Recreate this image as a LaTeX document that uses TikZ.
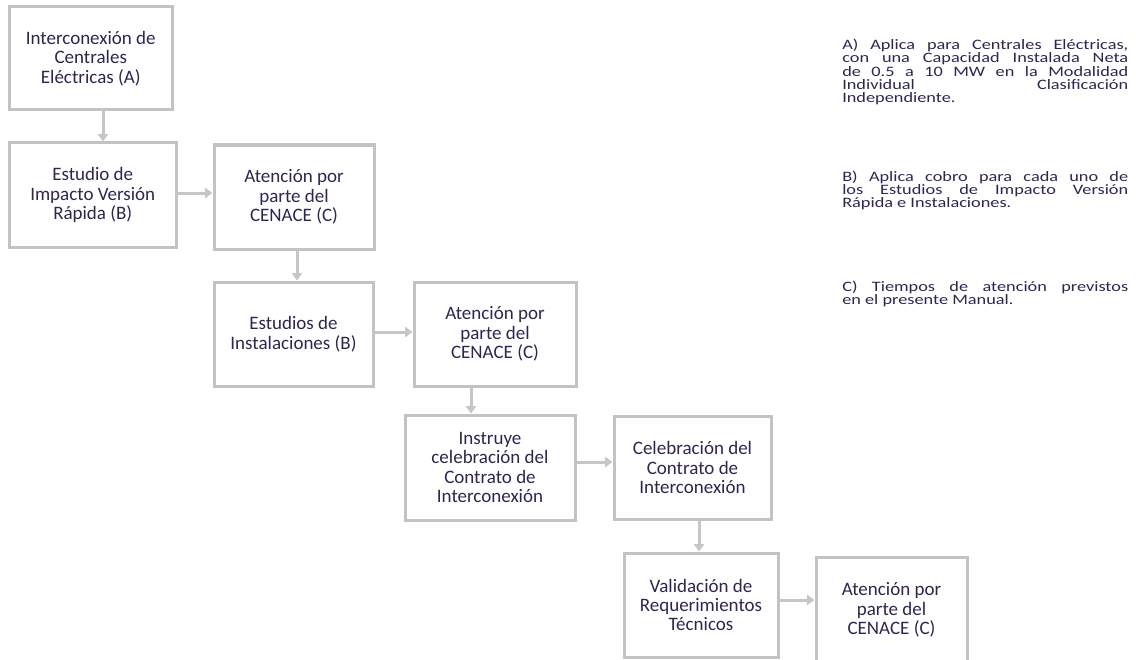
\documentclass[tikz,border=0pt]{standalone}
\usepackage{fontspec}
\usetikzlibrary{arrows.meta}
\newfontfamily\boxfont{Carlito}
\newfontfamily\notefont[FakeStretch=1.27]{Carlito}
\definecolor{boxgray}{HTML}{C3C3C3}
\definecolor{arrgray}{HTML}{C6C6C6}
\definecolor{txtcol}{HTML}{2A2850}
\tikzset{
  flowbox/.style={draw=boxgray, line width=2.25pt, align=center, inner sep=0pt,
    text=txtcol, font=\boxfont\fontsize{14.25pt}{14.6pt}\selectfont},
  flowarr/.style={draw=arrgray, line width=2.25pt, -{Triangle[length=5.5pt,width=7.5pt]}},
  notetext/.style={anchor=base west, inner sep=0pt, text width=214.5pt, align=justify,
    text=txtcol, font=\notefont\fontsize{10.8pt}{10pt}\selectfont}
}
\newcommand\flowbx[6]{\node[flowbox, minimum width={(#4-#2)*0.75pt}, minimum height={(#5-#3)*0.75pt}] (#1) at ({(#2+#4)/2},{(#3+#5)/2}) {#6};}
\begin{document}
\begin{tikzpicture}[x=0.75pt, y=-0.75pt]
\useasboundingbox (0,0) rectangle (1136,660);
\fill[white] (0,0) rectangle (1136,660);
\clip (0,0) rectangle (1136,660);
\flowbx{b1}{9.5}{7}{172}{110}{Interconexión de\\Centrales\\Eléctricas (A)}
\flowbx{b2}{9.5}{143}{176}{247}{Estudio de\\Impacto Versión\\Rápida (B)}
\flowbx{b3}{214}{145}{374}{249}{Atención por\\parte del\\CENACE (C)}
\flowbx{b4}{214}{282}{373}{386}{Estudios de\\Instalaciones (B)}
\flowbx{b5}{414}{282}{576}{386}{Atención por\\parte del\\CENACE (C)}
\flowbx{b6}{405}{415}{575}{520}{Instruye\\celebración del\\Contrato de\\Interconexión}
\flowbx{b7}{614}{416}{771}{519}{Celebración del\\Contrato de\\Interconexión}
\flowbx{b8}{624}{553}{778}{657}{Validación de\\Requerimientos\\Técnicos}
\flowbx{b9}{816}{557}{967}{663}{Atención por\\parte del\\CENACE (C)}
\draw[flowarr] (b1.south -| 103,0) -- (b2.north -| 103,0);
\draw[flowarr] (b2.east |- 0,193) -- (b3.west |- 0,193);
\draw[flowarr] (b3.south -| 297,0) -- (b4.north -| 297,0);
\draw[flowarr] (b4.east |- 0,332) -- (b5.west |- 0,332);
\draw[flowarr] (b5.south -| 471,0) -- (b6.north -| 471,0);
\draw[flowarr] (b6.east |- 0,462) -- (b7.west |- 0,462);
\draw[flowarr] (b7.south -| 699,0) -- (b8.north -| 699,0);
\draw[flowarr] (b8.east |- 0,600) -- (b9.west |- 0,600);
\node[notetext] (na) at (842,49.5) {A) Aplica para Centrales Eléctricas,\linebreak con una Capacidad Instalada Neta\linebreak de 0.5 a 10 MW en la Modalidad\linebreak Individual Clasificación\linebreak Independiente.};
\node[notetext] (nb) at (842,181) {B) Aplica cobro para cada uno de\linebreak los Estudios de Impacto Versión\linebreak Rápida e Instalaciones.};
\node[notetext] (nc) at (842,291) {C) Tiempos de atención previstos\linebreak en el presente Manual.};
\end{tikzpicture}
\end{document}
